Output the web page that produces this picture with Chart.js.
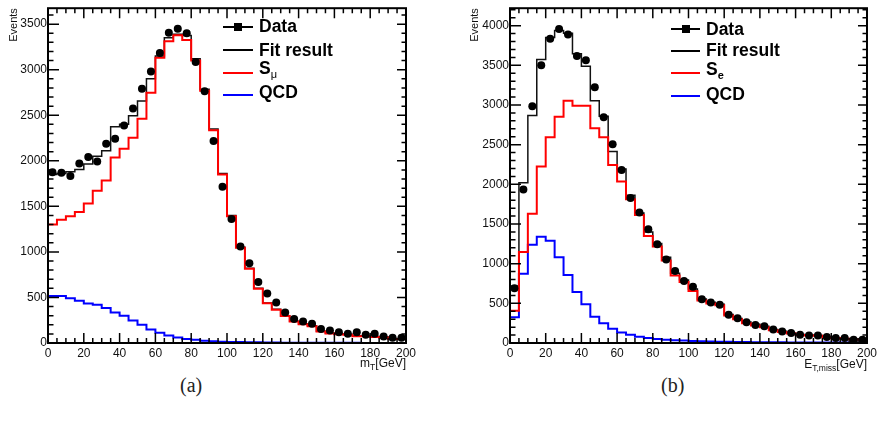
<!DOCTYPE html>
<html>
<head>
<meta charset="utf-8">
<script src="https://cdn.jsdelivr.net/npm/chart.js@4.4.1/dist/chart.umd.min.js"></script>
<style>
html,body{margin:0;padding:0;background:#fff;width:886px;height:434px;overflow:hidden;font-family:"Liberation Sans",Arial,sans-serif;color:#000;position:relative}
canvas{position:absolute;top:0}
#ca{left:0}
#cb{left:440px}
.lt{position:absolute;font-weight:bold;font-size:17.5px;line-height:1;white-space:nowrap}
.lt sub{font-size:11px;vertical-align:-4px;font-weight:normal}
.ll{position:absolute;height:2px}
.sq{position:absolute;width:8px;height:8px;background:#000}
.xt{position:absolute;font-size:12px;line-height:1;white-space:nowrap;color:#111}
.xt sub{font-size:8.5px;vertical-align:-3px}
.cap{position:absolute;font-family:"Liberation Serif","DejaVu Serif",serif;font-size:20px;line-height:1;color:#222}
</style>
</head>
<body>
<canvas id="ca" width="430" height="372"></canvas>
<canvas id="cb" width="440" height="372"></canvas>

<!-- legend (a) -->
<div class="ll" style="left:223px;top:26px;width:30px;height:1.5px;background:#000"></div>
<div class="sq" style="left:234px;top:22.5px"></div>
<div class="lt" style="left:259px;top:18px">Data</div>
<div class="ll" style="left:223px;top:49px;width:30px;height:1.5px;background:#000"></div>
<div class="lt" style="left:259px;top:41.5px">Fit result</div>
<div class="ll" style="left:223px;top:72px;width:30px;background:#f00"></div>
<div class="lt" style="left:259px;top:59.5px">S<sub>μ</sub></div>
<div class="ll" style="left:223px;top:93.5px;width:30px;background:#00f"></div>
<div class="lt" style="left:259px;top:84px">QCD</div>

<!-- legend (b) -->
<div class="ll" style="left:671px;top:28px;width:29px;height:1.5px;background:#000"></div>
<div class="sq" style="left:681.5px;top:24.5px"></div>
<div class="lt" style="left:706px;top:20.5px">Data</div>
<div class="ll" style="left:671px;top:50px;width:29px;height:1.5px;background:#000"></div>
<div class="lt" style="left:706px;top:42px">Fit result</div>
<div class="ll" style="left:671px;top:72px;width:29px;background:#f00"></div>
<div class="lt" style="left:706px;top:60.5px">S<sub style="font-weight:bold">e</sub></div>
<div class="ll" style="left:671px;top:94.5px;width:29px;background:#00f"></div>
<div class="lt" style="left:706px;top:85.5px">QCD</div>

<!-- x titles -->
<div class="xt" style="right:480px;top:357px">m<sub>T</sub>[GeV]</div>
<div class="xt" style="right:19px;top:358px">E<sub>T,miss</sub>[GeV]</div>

<!-- captions -->
<div class="cap" style="left:180px;top:375px">(a)</div>
<div class="cap" style="left:661px;top:375px">(b)</div>

<script>
// ---------- data ----------
const binEdges = [0,5,10,15,20,25,30,35,40,45,50,55,60,65,70,75,80,85,90,95,100,
                  105,110,115,120,125,130,135,140,145,150,155,160,165,170,175,180,185,190,195,200];
const xTickValues = [0,20,40,60,80,100,120,140,160,180,200];
const yTickValuesA = [0,500,1000,1500,2000,2500,3000,3500];
const yTickValuesB = [0,500,1000,1500,2000,2500,3000,3500,4000];

// (a) m_T
const dataA = [1873,1870,1833,1970,2043,1992,2188,2242,2387,2575,2792,2980,3182,3406,3450,3399,3085,2763,2217,1714,
               1360,1060,875,669,542,445,336,264,235,210,155,137,119,101,119,90,101,72,58,58];
const fitA  = [1850,1860,1880,1905,1965,2050,2110,2375,2400,2495,2655,2900,3150,3350,3390,3375,3120,2785,2350,1860,
               1400,1050,820,600,440,370,300,240,210,190,130,110,100,95,80,80,70,65,50,50];
const sigA  = [1302,1352,1392,1439,1530,1671,1783,2036,2133,2253,2462,2748,3131,3312,3377,3327,3102,2770,2335,1850,
               1390,1045,815,595,435,365,295,235,205,185,125,105,95,90,75,75,65,60,45,45];
const qcdA  = [517,515,492,463,434,419,383,336,300,246,199,148,112,83,60,45,35,25,20,15,
               12,10,8,7,6,5,4,4,3,3,3,2,2,2,2,1,1,1,1,1];

// (b) E_T,miss
const dataB = [690,1936,2983,3502,3834,3959,3888,3618,3564,3223,2845,2505,2181,1828,1645,1433,1246,1051,906,781,
               710,552,511,482,357,312,262,228,212,170,145,125,104,96,96,75,62,62,42,42];
const fitB  = [720,2019,2866,3572,3850,3940,3905,3647,3489,3053,2858,2413,2193,1861,1640,1400,1255,1080,880,795,
               680,555,515,490,360,310,265,235,210,170,148,127,107,100,95,75,65,58,48,45];
const sigB  = [407,1146,1628,2226,2592,2853,3053,2991,2991,2708,2592,2243,2035,1811,1612,1350,1217,1040,850,770,
               655,535,497,477,348,298,250,222,198,160,140,120,100,94,90,70,60,55,45,40];
const qcdB  = [324,872,1238,1338,1288,1080,856,644,490,332,249,179,133,104,80,62,50,42,36,30,
               25,22,19,17,15,13,12,11,10,9,8,7,7,6,6,5,5,5,4,4];

// ---------- helpers ----------
function stepPoints(vals){
  const pts = [{x:binEdges[0], y:0}];
  vals.forEach((v,i)=>pts.push({x:binEdges[i], y:v}));
  pts.push({x:binEdges[binEdges.length-1], y:vals[vals.length-1]});
  return pts;
}
function centerPoints(vals){
  return vals.map((v,i)=>({x:(binEdges[i]+binEdges[i+1])/2, y:v}));
}

const frameTicks = {
  id:'frameTicks',
  afterDatasetsDraw(chart, args, o){
    const {ctx, chartArea:a, scales:{x,y}} = chart;
    ctx.save();
    ctx.strokeStyle = '#000';
    ctx.lineWidth = 1.5;
    ctx.beginPath();
    for (let v = x.min; v <= x.max + 1e-9; v += o.xMinor){
      const px = x.getPixelForValue(v);
      const major = Math.abs(v/o.xMajor - Math.round(v/o.xMajor)) < 1e-6;
      const L = major ? o.xMajLen : o.xMinLen;
      ctx.moveTo(px, a.bottom); ctx.lineTo(px, a.bottom - L);
      ctx.moveTo(px, a.top);    ctx.lineTo(px, a.top + L);
    }
    for (let v = 0; v <= y.max + 1e-9; v += o.yMinor){
      const py = y.getPixelForValue(v);
      const major = Math.abs(v/o.yMajor - Math.round(v/o.yMajor)) < 1e-6;
      ctx.moveTo(a.left, py);  ctx.lineTo(a.left + (major ? o.yMajLen : o.yMinLen), py);
      ctx.moveTo(a.right, py); ctx.lineTo(a.right - (major ? o.yMajLenR : o.yMinLenR), py);
    }
    ctx.stroke();
    ctx.lineWidth = 2;
    ctx.strokeRect(a.left, a.top, a.right - a.left, a.bottom - a.top);
    ctx.restore();
  }
};

Chart.defaults.font.family = '"Liberation Sans", Arial, sans-serif';
Chart.defaults.color = '#111';

function makeChart(id, d, fit, sig, qcd, ymax, yTicks, yAxisW, padRight, titlePad){
  return new Chart(document.getElementById(id), {
    type:'line',
    data:{datasets:[
      {label:'Data', data:centerPoints(d), showLine:false, pointRadius:4, pointHoverRadius:4,
       pointBackgroundColor:'#000', pointBorderWidth:0, borderColor:'#000'},
      {label:'S', data:stepPoints(sig), stepped:'before', borderColor:'#ff0000', borderWidth:2, pointRadius:0, fill:false},
      {label:'Fit result', data:stepPoints(fit), stepped:'before', borderColor:'#111', borderWidth:1.5, pointRadius:0, fill:false},
      {label:'QCD', data:stepPoints(qcd), stepped:'before', borderColor:'#0000ff', borderWidth:2, pointRadius:0, fill:false}
    ]},
    options:{
      responsive:false, animation:false, devicePixelRatio:1,
      layout:{padding:{top:4, right:padRight, left:0, bottom:0}},
      plugins:{legend:{display:false}, tooltip:{enabled:false},
        frameTicks:{xMinor:5, xMajor:20, xMajLen:10, xMinLen:5,
                    yMinor:100, yMajor:500, yMajLen:11, yMinLen:5.5, yMajLenR:9, yMinLenR:4.5}},
      scales:{
        x:{type:'linear', min:0, max:200,
           grid:{display:false, drawTicks:false}, border:{display:false},
           ticks:{font:{size:12}, padding:3, autoSkip:false, maxRotation:0, color:'#111',
                  callback:(v)=>String(v)},
           afterBuildTicks(s){ s.ticks = xTickValues.map(v=>({value:v})); },
           afterFit(s){ s.height = 29; }},
        y:{type:'linear', min:0, max:ymax,
           grid:{display:false, drawTicks:false}, border:{display:false},
           ticks:{font:{size:12}, padding:1, autoSkip:false, color:'#111',
                  callback:(v)=>String(v)},
           title:{display:true, text:'Events', align:'end', font:{size:11}, color:'#111', padding:{top:titlePad, bottom:0}},
           afterBuildTicks(s){ s.ticks = yTicks.map(v=>({value:v})); },
           afterFit(s){ s.width = yAxisW; }}
      }
    },
    plugins:[frameTicks]
  });
}

makeChart('ca', dataA, fitA, sigA, qcdA, 3675, yTickValuesA, 48, 24, 7);
makeChart('cb', dataB, fitB, sigB, qcdB, 4220, yTickValuesB, 70, 13, 28.5);
</script>
</body>
</html>
